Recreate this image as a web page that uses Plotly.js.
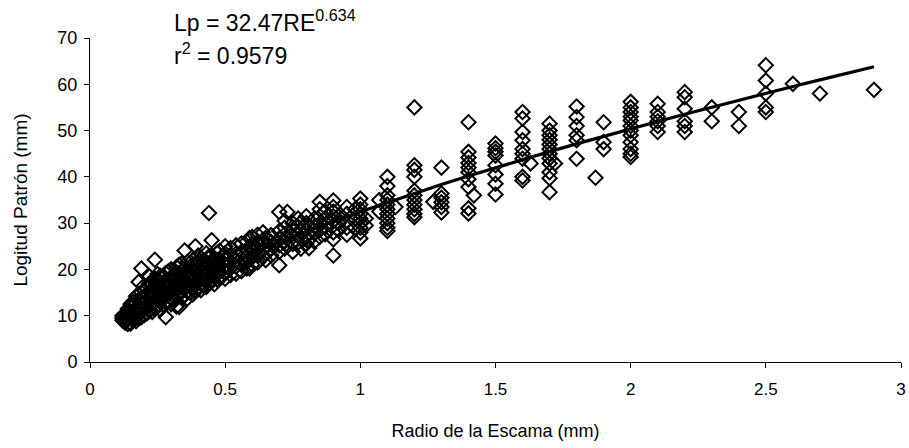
<!DOCTYPE html>
<html>
<head>
<meta charset="utf-8">
<script src="https://cdn.plot.ly/plotly-3.0.1.min.js"></script>
<style>
  html, body { margin: 0; padding: 0; background: #fff; }
  #chart { width: 909px; height: 448px; }
</style>
</head>
<body>
<div id="chart"></div>
<script>
// Radio de la escama (mm) for each group of observations
const radioGrupos = [
  0.12, 0.13, 0.14, 0.15, 0.16, 0.17, 0.18, 0.19, 0.20, 0.21,
  0.22, 0.23, 0.24, 0.25, 0.26, 0.27, 0.28, 0.29, 0.30, 0.31,
  0.32, 0.33, 0.34, 0.35, 0.36, 0.37, 0.38, 0.39, 0.40, 0.41,
  0.42, 0.43, 0.44, 0.45, 0.46, 0.47, 0.48, 0.49, 0.50, 0.52,
  0.54, 0.56, 0.58, 0.59, 0.60, 0.62, 0.64, 0.65, 0.67, 0.70,
  0.72, 0.73, 0.75, 0.77, 0.78, 0.80, 0.81, 0.83, 0.85, 0.87,
  0.90, 0.92, 0.95, 0.98, 1.00, 1.02, 1.07, 1.10, 1.13, 1.20,
  1.27, 1.30, 1.40, 1.42, 1.50, 1.60, 1.63, 1.70, 1.72, 1.80,
  1.87, 1.90, 2.00, 2.10, 2.20, 2.30, 2.40, 2.50, 2.60, 2.70,
  2.90
];
// Longitud patrón (mm) observed at each radius above
const longitudGrupos = [
  [9.5, 10, 9],
  [9, 10.5, 8.5, 9.8],
  [9.2, 10.8, 8.2, 11.5],
  [8.3, 9.6, 10.4, 11.8, 12.5],
  [9, 10, 11, 12.2, 13],
  [8.8, 10.6, 11.4, 12.8, 14.2],
  [9.4, 10.2, 11.9, 13.4, 17.3],
  [9.7, 11, 12.4, 14, 15, 20.2],
  [10.1, 11.6, 12.8, 13.9, 15.6, 16.5],
  [10.5, 12, 13.3, 14.5, 16],
  [11, 12.3, 13.8, 15.2, 17, 18.5],
  [10.8, 12.8, 14.2, 15.5, 16.8],
  [11.5, 13, 14.6, 16.2, 18, 22.1],
  [12, 13.6, 15, 16.4, 17.5, 19],
  [11.3, 12.9, 14, 15.8, 17.2, 18.6],
  [12.4, 14.2, 15.4, 16.9, 18.2],
  [9.7, 12.8, 14.5, 16, 17.4, 19.2],
  [13.1, 14.8, 16.3, 17.8, 19.6],
  [12.5, 13.9, 15.4, 16.6, 18.1, 20],
  [13.4, 15, 16.2, 17.5, 18.8],
  [12, 14.2, 15.6, 17, 18.4, 20.5],
  [11.9, 14.6, 16.1, 17.6, 19.2, 21],
  [13.8, 15.3, 16.8, 18.2, 19.6, 21.3],
  [14.5, 16, 17.4, 18.8, 20.2, 24.1],
  [13.7, 15.2, 16.6, 18, 19.3, 21.6],
  [15, 16.4, 17.8, 19.1, 20.6],
  [14.6, 16.1, 17.4, 18.6, 20, 22],
  [15.5, 17, 18.3, 19.7, 21.2, 25],
  [15.8, 17.2, 18.7, 20.1, 21.5, 23],
  [15.5, 16.8, 18.2, 19.4, 20.8, 22.4],
  [16.5, 17.9, 19.2, 20.5, 22],
  [16.2, 17.6, 19, 20.3, 21.6, 23.5],
  [17, 18.4, 19.8, 21.2, 22.8, 32.2],
  [17.4, 18.8, 20.1, 21.5, 23, 26.3],
  [16.8, 18.3, 19.6, 21, 22.4],
  [17.8, 19.2, 20.5, 22, 23.6],
  [18.2, 19.5, 20.8, 22.2, 24],
  [18.5, 19.9, 21.3, 22.7],
  [18, 19.4, 20.8, 22.1, 23.5, 25],
  [18.8, 20.2, 21.6, 23, 24.6],
  [19.1, 20.6, 22, 23.4, 25.2],
  [19.6, 21, 22.4, 23.8, 25.6],
  [20.2, 21.5, 22.9, 24.3, 26],
  [20.2, 22.2, 24.8, 26.8],
  [21, 22.6, 24, 25.5, 27],
  [21.5, 23, 24.5, 25.8, 27.5],
  [22.7, 24.2, 25.6, 26.4, 28],
  [22, 23.5, 25, 26.8],
  [23, 24.4, 25.9, 27.4],
  [20.9, 23.8, 25.2, 26.7, 28.3, 32.4],
  [24.5, 26, 27.6, 29, 30.5],
  [25, 27.2, 32.4],
  [23.8, 25.5, 27, 28.5, 30],
  [25.8, 27.5, 29.2, 31],
  [24.5, 26.6, 28.3, 30.2],
  [25.5, 27, 28.6, 30, 31.5],
  [24.6, 26.4, 29.5],
  [26, 27.8, 29.3, 31],
  [27, 28.5, 30, 31.5, 33, 34.6],
  [27.6, 29.2, 31, 32.5],
  [23, 26.5, 28, 29.5, 30.5, 31.5, 32.5, 33.5, 34.9],
  [28.5, 30, 31.5],
  [27.5, 29, 30.5, 32, 33.5],
  [29, 31, 33],
  [26.7, 28, 29, 30, 31, 32, 33, 34, 35.3],
  [29.5, 31],
  [35, 32.5],
  [40, 38, 36, 35, 34, 33, 32, 31, 30, 29, 28.3],
  [33.5],
  [55, 42.5, 41.5, 40, 37, 36, 35, 34, 33, 32, 31.3],
  [34.6],
  [42, 36.4, 35.5, 34.5, 33.5, 32.3],
  [51.8, 45.4, 44.2, 43, 42, 41, 39.5, 37.8, 33.2, 32.1],
  [36],
  [47.2, 46.2, 45.4, 44.6, 42.5, 40.5, 38.5, 36.2],
  [54, 52.6, 49.7, 47.9, 46, 45, 43.9, 40, 39.2],
  [42.9],
  [51.5, 50, 49, 48, 47, 46, 45, 44, 42.9, 41, 39.7, 36.7],
  [42.9],
  [55.2, 52.9, 51, 49, 47.9, 43.9],
  [39.8],
  [51.8, 47.5, 46],
  [56.2, 55, 54, 53, 52.2, 51, 50, 49, 47.5, 46, 45, 44.3],
  [55.8, 54, 53, 52, 51, 49.7],
  [58.3, 57.2, 54.7, 52, 51, 49.7],
  [55, 52],
  [54, 51],
  [64.1, 60.8, 58, 55, 54],
  [60.1],
  [58],
  [58.8]
];
// Power trend line Lp = 32.47 RE^0.634
const curvaRadio = [0.12, 0.15, 0.2, 0.25, 0.3, 0.4, 0.5, 0.6, 0.7, 0.8, 0.9, 1.0,
  1.1, 1.2, 1.3, 1.4, 1.5, 1.6, 1.7, 1.8, 1.9, 2.0, 2.1, 2.2, 2.3, 2.4, 2.5, 2.6, 2.7, 2.9];
const curvaLongitud = [8.46, 9.75, 11.71, 13.48, 15.13, 18.16, 20.92, 23.49, 25.9, 28.19, 30.37, 32.47,
  34.49, 36.45, 38.35, 40.19, 41.99, 43.74, 45.45, 47.13, 48.78, 50.39, 51.97, 53.53, 55.06, 56.57, 58.05, 59.51, 60.95, 63.8];

const xTickVals = [0, 0.5, 1, 1.5, 2, 2.5, 3];
const xTickText = ['0', '0.5', '1', '1.5', '2', '2.5', '3'];
const yTickVals = [0, 10, 20, 30, 40, 50, 60, 70];

const puntosX = [], puntosY = [];
radioGrupos.forEach((r, i) => {
  longitudGrupos[i].forEach(v => { puntosX.push(r); puntosY.push(v); });
});

const FONT = '"Liberation Sans", Arial, sans-serif';

const traces = [
  {
    type: 'scatter', mode: 'markers',
    x: puntosX, y: puntosY,
    marker: { symbol: 'diamond-open', size: 11, color: '#000', line: { width: 2, color: '#000' } },
    hoverinfo: 'x+y', showlegend: false, cliponaxis: false
  },
  {
    type: 'scatter', mode: 'lines',
    x: curvaRadio, y: curvaLongitud,
    line: { color: '#000', width: 3.2 },
    showlegend: false
  }
];

const layout = {
  width: 909, height: 448,
  margin: { l: 90, r: 8, t: 38, b: 86 },
  paper_bgcolor: '#fff', plot_bgcolor: '#fff',
  font: { family: FONT, size: 17, color: '#000' },
  showlegend: false,
  xaxis: {
    range: [0, 3], tickvals: xTickVals, ticktext: xTickText,
    showgrid: false, zeroline: false, showline: true, linecolor: '#000', linewidth: 1,
    ticks: 'outside', ticklen: 5, tickwidth: 1, tickcolor: '#000',
    ticklabelstandoff: 7,
    tickfont: { family: FONT, size: 17, color: '#000' },
    title: { text: 'Radio de la Escama (mm)', font: { family: FONT, size: 18, color: '#000' }, standoff: 25 }
  },
  yaxis: {
    range: [0, 70], tickvals: yTickVals,
    showgrid: false, zeroline: false, showline: true, linecolor: '#000', linewidth: 1,
    ticks: 'outside', ticklen: 5, tickwidth: 1, tickcolor: '#000',
    ticklabelstandoff: 3,
    tickfont: { family: FONT, size: 18, color: '#000' },
    title: { text: 'Logitud Patrón (mm)', font: { family: FONT, size: 19, color: '#000' }, standoff: 24 }
  },
  annotations: [
    {
      xref: 'paper', yref: 'paper', x: 0.101, y: 1.052, xanchor: 'left', yanchor: 'middle',
      text: 'Lp = 32.47RE<sup>0.634</sup>', showarrow: false,
      font: { family: FONT, size: 23, color: '#000' }
    },
    {
      xref: 'paper', yref: 'paper', x: 0.101, y: 0.952, xanchor: 'left', yanchor: 'middle',
      text: 'r<sup>2</sup> = 0.9579', showarrow: false,
      font: { family: FONT, size: 23, color: '#000' }
    }
  ]
};

Plotly.newPlot('chart', traces, layout, { staticPlot: true, displayModeBar: false });
</script>
</body>
</html>
